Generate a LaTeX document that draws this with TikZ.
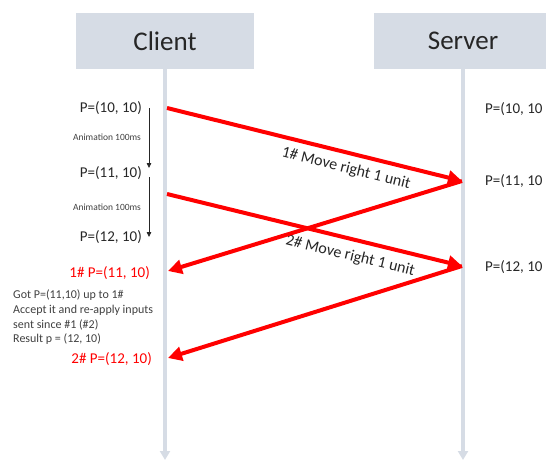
\documentclass[tikz,border=0pt]{standalone}
\usepackage{fontspec}
\setmainfont{Carlito}
\usetikzlibrary{arrows.meta}
\definecolor{lane}{HTML}{D6DCE5}
\definecolor{txt}{HTML}{262626}
\definecolor{note}{HTML}{404040}
\definecolor{msg}{HTML}{FF0000}
\tikzset{
  actor/.style={fill=lane, draw=none, minimum width=178pt, minimum height=56pt,
    font=\fontsize{27}{30}\selectfont, text=txt},
  lifeline/.style={draw=lane, line width=3.5pt, -{Triangle[length=9pt,width=10pt]}},
  packet/.style={draw=msg, line width=4pt, -{Triangle[length=14pt,width=14pt]}},
  state/.style={font=\fontsize{15}{18}\selectfont, text=txt, inner sep=0pt},
  redstate/.style={font=\fontsize{15}{18}\selectfont, text=msg, inner sep=0pt},
  anim/.style={draw=txt, line width=0.8pt, -{Triangle[length=5pt,width=4.5pt]}},
  animlabel/.style={font=\fontsize{9.5}{11}\selectfont, text=note, inner sep=0pt},
  msglabel/.style={font=\fontsize{16}{19}\selectfont, text=txt, sloped, inner sep=0pt},
  notetext/.style={font=\fontsize{12}{14.6}\selectfont, text=note, align=left, inner sep=0pt}
}
\begin{document}
\begin{tikzpicture}[x=1pt, y=-1pt]
\useasboundingbox (0,0) rectangle (546,460);
\clip (0,0) rectangle (546,460);

% participants
\node[actor] (client) at (165,41) {Client};
\node[actor] (server) at (463,41) {Server};

% lifelines
\coordinate (cend) at (165,460);
\coordinate (send) at (463,460);
\draw[lifeline] (client.south) -- (cend);
\draw[lifeline] (server.south) -- (send);

% message anchor points on the lifelines
\coordinate (c1) at (167,108);
\coordinate (c2) at (168,271);
\coordinate (c3) at (167,194);
\coordinate (c4) at (168,358);
\coordinate (s1) at (462,181);
\coordinate (s2) at (462,266);

% client-side predicted positions
\node[state, anchor=east] (p1) at (142,108) {P=(10, 10)};
\node[state, anchor=east] (p2) at (142,173) {P=(11, 10)};
\node[state, anchor=east] (p3) at (142,237) {P=(12, 10)};

% animation steps
\coordinate (a1) at (149,108);
\coordinate (a2) at (149,168);
\coordinate (a3) at (149,177);
\coordinate (a4) at (149,237);
\draw[anim] (a1) -- (a2);
\draw[anim] (a3) -- (a4);
\node[animlabel] (l1) at (107,137) {Animation 100ms};
\node[animlabel] (l2) at (107,207) {Animation 100ms};

% server-side authoritative positions (the column ends at the margin)
\node[state, anchor=west] (q1) at (485,109) {P=(10, 10};
\node[state, anchor=west] (q2) at (485,181) {P=(11, 10};
\node[state, anchor=west] (q3) at (485,267) {P=(12, 10};

% inputs sent to the server
\draw[packet] (c1) -- node[msglabel, pos=0.62, below=7pt] (m1) {1\# Move right 1 unit} (s1);
\draw[packet] (c3) -- node[msglabel, pos=0.635, below=8pt] (m2) {2\# Move right 1 unit} (s2);

% state replies from the server
\draw[packet] (s1) -- (c2);
\draw[packet] (s2) -- (c4);

% reconciliation on the client
\node[redstate, anchor=east] (r1) at (150,273) {1\# P=(11, 10)};
\node[notetext, anchor=north west] (n1) at (13,290) {Got P=(11,10) up to 1\#\\Accept it and re-apply inputs\\sent since \#1 (\#2)\\Result p = (12, 10)};
\node[redstate, anchor=east] (r2) at (152,359) {2\# P=(12, 10)};
\end{tikzpicture}
\end{document}
